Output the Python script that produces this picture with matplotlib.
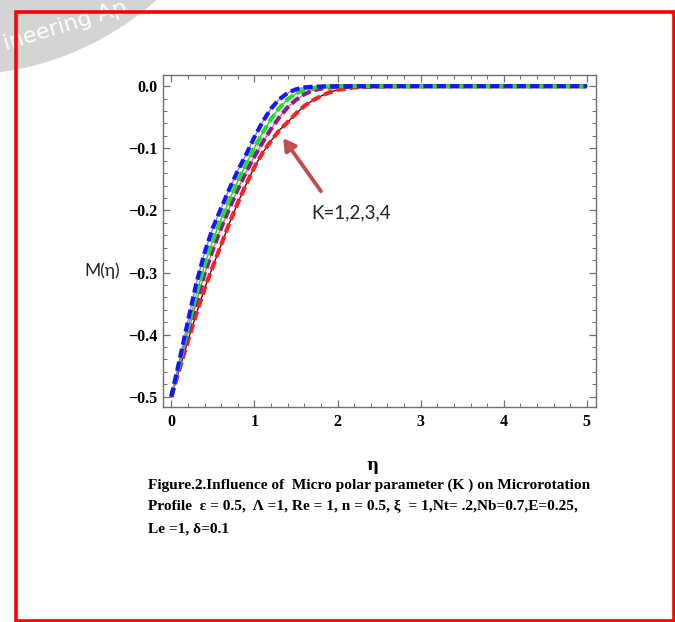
import matplotlib
matplotlib.use('Agg')
import matplotlib.pyplot as plt
import matplotlib.ticker as ticker
from matplotlib.patches import Circle, Rectangle

# eta grid and the four microrotation profiles
eta = [0.0, 0.1, 0.2, 0.3, 0.4, 0.5, 0.6, 0.7, 0.8, 0.9, 1.0,
       1.1, 1.2, 1.3, 1.4, 1.5, 1.6, 1.7, 1.8, 1.9, 2.0,
       2.2, 2.5, 3.0, 4.0, 5.0]

m_k1 = [-0.500, -0.455, -0.410, -0.367, -0.326, -0.290, -0.255, -0.220, -0.188, -0.158, -0.130,
        -0.107, -0.088, -0.071, -0.058, -0.044, -0.032, -0.023, -0.016, -0.010, -0.006,
        -0.002, -0.0005, 0.0, 0.0, 0.0]
m_k2 = [-0.500, -0.450, -0.398, -0.348, -0.302, -0.263, -0.228, -0.196, -0.166, -0.138, -0.113,
        -0.090, -0.069, -0.050, -0.034, -0.022, -0.013, -0.007, -0.004, -0.002, -0.001,
        -0.0004, 0.0, 0.0, 0.0, 0.0]
m_k3 = [-0.500, -0.446, -0.390, -0.336, -0.288, -0.248, -0.214, -0.183, -0.153, -0.125, -0.099,
        -0.075, -0.053, -0.035, -0.021, -0.012, -0.006, -0.003, -0.001, -0.0005, 0.0,
        0.0, 0.0, 0.0, 0.0, 0.0]
m_k4 = [-0.500, -0.440, -0.378, -0.318, -0.268, -0.228, -0.196, -0.165, -0.136, -0.110, -0.082,
        -0.057, -0.036, -0.021, -0.011, -0.005, -0.002, -0.001, -0.0005, 0.0, 0.0,
        0.0, 0.0, 0.0, 0.0, 0.0]

profiles = [m_k1, m_k2, m_k3, m_k4]
dash_colors = ['#FF2020', '#8B1A9A', '#22DD22', '#1515FF']
under_colors = ['#222222', '#FF6060', '#33CC33', '#8080FF']

xticks = [0, 1, 2, 3, 4, 5]
yticks = [0.0, -0.1, -0.2, -0.3, -0.4, -0.5]

W, H = 675, 622
fig = plt.figure(figsize=(W / 100, H / 100), dpi=100)
fig.patch.set_facecolor('white')

def px(x, y):
    return x / W, 1 - y / H

# watermark blob in the top-left corner
blob = Circle((-40 / 100, (H + 220) / 100), 2.95, transform=fig.dpi_scale_trans,
              facecolor='#D4D4D4', edgecolor='none', zorder=0)
fig.patches.append(blob)
fig.text(*px(1, 50), 'ineering Ap', color='white', fontsize=16,
         family='DejaVu Sans', rotation=17, ha='left', va='baseline', zorder=1)

# red frame
fig.patches.append(Rectangle(px(15.5, 621), (673.5 - 15.5) / W, (621 - 12) / H,
                             transform=fig.transFigure, fill=False,
                             edgecolor='#FF0000', linewidth=2.6, zorder=2))

ax = fig.add_axes([163 / W, 1 - 407 / H, (596 - 163) / W, (407 - 75) / H])
ax.set_xlim(-0.1, 5.11)
ax.set_ylim(-0.5165, 0.018)

for m, dc, uc in zip(profiles, dash_colors, under_colors):
    ax.plot(eta, m, color=uc, linewidth=1.0, zorder=3)
    ax.plot(eta, m, color=dc, linewidth=3.0, linestyle=(0, (2.2, 1.0)), zorder=4)

for s in ax.spines.values():
    s.set_color('#707070')
    s.set_linewidth(1.0)

ax.set_xticks(xticks)
ax.set_yticks(yticks)
ax.set_yticklabels(['0.0', '\u22120.1', '\u22120.2', '\u22120.3', '\u22120.4', '\u22120.5'])
ax.xaxis.set_minor_locator(ticker.MultipleLocator(0.2))
ax.yaxis.set_minor_locator(ticker.MultipleLocator(0.02))
ax.tick_params(which='both', direction='in', top=True, right=True, color='#707070')
ax.tick_params(which='major', length=5, width=0.9)
ax.tick_params(which='minor', length=2.8, width=0.7)
ax.tick_params(axis='y', pad=4)
ax.tick_params(axis='x', pad=5)
for lab in ax.get_xticklabels() + ax.get_yticklabels():
    lab.set_family('Liberation Serif')
    lab.set_fontweight('bold')
    lab.set_fontsize(11.5)

# arrow and label for K
ax.annotate('', xy=(1.346, -0.0836), xytext=(1.80, -0.169),
            arrowprops=dict(arrowstyle='-|>,head_length=0.7,head_width=0.4',
                            color='#C0504D', linewidth=2.8, shrinkA=0, shrinkB=0),
            zorder=6)
ax.text(2.16, -0.204, 'K=1,2,3,4', family='Lato', fontsize=13.5,
        ha='center', va='center', color='#222222')

fig.text(*px(102, 271), 'M(\u03b7)', family='Lato', fontsize=12.5,
         ha='center', va='center', color='#222222')
fig.text(*px(372, 465), '\u03b7', family='DejaVu Serif', fontweight='bold',
         fontsize=12, ha='center', va='center')

caption = ['Figure.2.Influence of  Micro polar parameter (K ) on Microrotation',
           'Profile  \u03b5 = 0.5,  \u039b =1, Re = 1, n = 0.5, \u03be  = 1,Nt= .2,Nb=0.7,E=0.25,',
           'Le =1, \u03b4=0.1']
for i, line in enumerate(caption):
    fig.text(*px(148, 485 + 22 * i), line, family=['Liberation Serif', 'DejaVu Serif'],
             fontweight='bold', fontsize=11.1, ha='left', va='center')

fig.savefig('out.png', dpi=100, facecolor='white')
